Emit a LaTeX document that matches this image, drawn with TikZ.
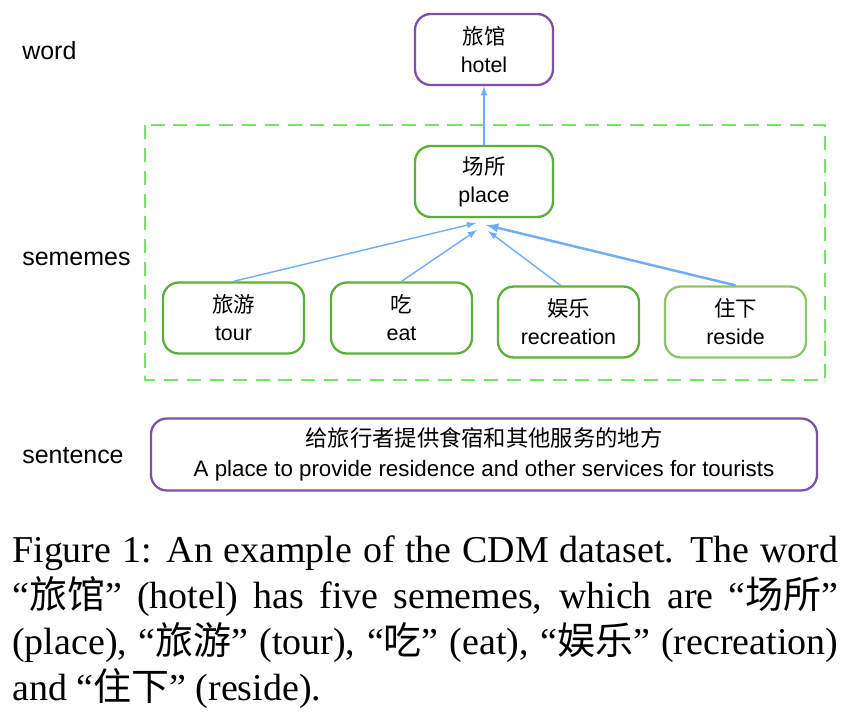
\documentclass[tikz,border=0pt]{standalone}
\usepackage{fontspec}
\setmainfont{Liberation Serif}
\newfontfamily\diagfont{Liberation Sans}
\newfontfamily\cjk{Noto Sans CJK SC}
\usetikzlibrary{positioning}
\definecolor{wordpurple}{HTML}{7B52A6}
\definecolor{semgreen}{HTML}{5CB03A}
\definecolor{semlight}{HTML}{8DC56A}
\definecolor{framegreen}{HTML}{6FE860}
\definecolor{arrowblue}{HTML}{6EAEF5}

\begin{document}
\begin{tikzpicture}[
        on grid,
        box/.style={
          draw,line width=1.3pt,rounded corners=9pt,minimum width=2.82cm,
          minimum height=1.42cm,align=center,inner sep=0pt,
          font=\diagfont\fontsize{12.2}{15.9}\selectfont},
        wordnode/.style={box,draw=wordpurple},
        sememe/.style={box,draw=semgreen},
        level/.style={anchor=west,inner sep=0pt,
          font=\diagfont\fontsize{14.2}{17}\selectfont},
        every edge/.append style={->,>=latex,draw=arrowblue,line width=0.8pt}]
      \useasboundingbox (0,0) rectangle (17.2,-14.32);
      \node[wordnode,minimum width=2.76cm] (hotel) at (9.68,-0.99) {{\cjk 旅馆}\\hotel};
      \node[sememe,minimum width=2.76cm,below=2.64cm of hotel] (place) {{\cjk 场所}\\place};
      \node[sememe,below left=2.73cm and 5.01cm of place] (tour) {{\cjk 旅游}\\tour};
      \node[sememe,right=3.36cm of tour] (eat) {{\cjk 吃}\\eat};
      \node[sememe,below right=0.08cm and 3.34cm of eat] (recreation) {{\cjk 娱乐}\\recreation};
      \node[sememe,draw=semlight,right=3.34cm of recreation] (reside) {{\cjk 住下}\\reside};
      \node[wordnode,below=5.46cm of place,minimum width=13.32cm,minimum height=1.44cm,
        font=\diagfont\fontsize{12.7}{17}\selectfont] (sentence)
        {{\cjk 给旅行者提供食宿和其他服务的地方}\\A place to provide residence and other services for tourists};
      % dashed frame round the sememes
      \draw[framegreen,line width=1.6pt,dash pattern=on 8pt off 5pt] (2.9,-2.5) rectangle (16.5,-7.6);
      % level names on the left
      \node[level] (wordlab) at (0.44,-1.02) {word};
      \node[level] (sememelab) at (0.44,-5.18) {sememes};
      \node[level] (sentlab) at (0.44,-9.12) {sentence};
      % arrows end just under place
      \coordinate (totour) at (9.52,-4.46);
      \coordinate (toeat) at (9.54,-4.60);
      \coordinate (torec) at (9.76,-4.62);
      \coordinate (toreside) at (9.72,-4.50);
      \path (place) edge (hotel);
      \path (tour.north) edge (totour);
      \path (eat.north) edge (toeat);
      \path ([xshift=-0.16cm]recreation.north) edge (torec);
      \path (reside.north) edge[line width=1.4pt] (toreside);
      % caption
      \node[anchor=north west,inner sep=0pt,align=left,
        font=\fontsize{21.6}{26.2}\selectfont] (caption) at (0.24,-10.7)
        {\makebox[16.52cm][s]{Figure 1: An example of the CDM dataset. The word}\\
         \makebox[16.52cm][s]{“{\cjk 旅馆}” (hotel) has five sememes, which are “{\cjk 场所}”}\\
         \makebox[16.52cm][s]{(place), “{\cjk 旅游}” (tour), “{\cjk 吃}” (eat), “{\cjk 娱乐}” (recreation)}\\
         and “{\cjk 住下}” (reside).};
    \end{tikzpicture}
\end{document}
